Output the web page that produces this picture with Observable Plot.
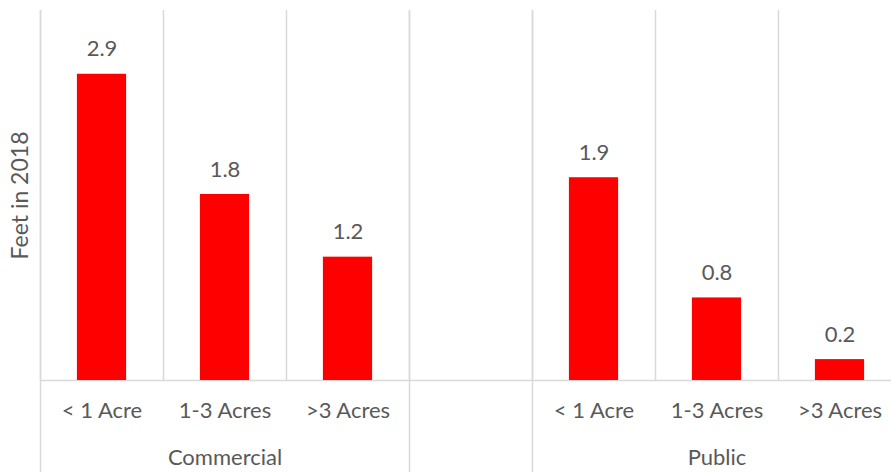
<!DOCTYPE html>
<html><head><meta charset="utf-8">
<script src="https://cdn.jsdelivr.net/npm/d3@7"></script>
<script src="https://cdn.jsdelivr.net/npm/@observablehq/plot@0.6"></script>
<style>body{margin:0;background:#fff} svg{display:block}</style>
</head><body><div id="chart"></div>
<script>
// Category slots (with an empty spacer slot between groups)
const categories = ["< 1 Acre", "1-3 Acres", ">3 Acres", "", "< 1 Acre", "1-3 Acres", ">3 Acres"];
const values = [2.93, 1.78, 1.18, null, 1.94, 0.79, 0.2];
const valueLabels = ["2.9", "1.8", "1.2", "", "1.9", "0.8", "0.2"];
// Group labels and the slot spans they cover [start, end)
const groupNames = ["Commercial", "", "Public"];
const groupStart = [0, 3, 4];
const groupEnd = [3, 4, 7];
const yTitle = "Feet in 2018";

const rows = categories.map((c, i) => ({i, category: c, value: values[i], label: valueLabels[i]}));
const bars = rows.filter(d => d.value != null);
const groups = groupNames.map((g, k) => ({name: g, start: groupStart[k], end: groupEnd[k]}));
const boundaries = [0, ...groupEnd];
const slotEdges = d3.range(categories.length + 1);

const grid = "#d9d9d9";
const ink = "#595959";

const chart = Plot.plot({
  width: 891,
  height: 472,
  marginLeft: 40,
  marginTop: 10,
  marginBottom: 92,
  marginRight: 0,
  style: {fontFamily: "Lato, 'Open Sans', sans-serif", fontSize: "22px", color: ink, background: "#fff"},
  x: {type: "linear", domain: [0, categories.length], range: [40, 901], axis: null},
  y: {domain: [0, 3.54], axis: null},
  marks: [
    Plot.ruleX(slotEdges, {stroke: grid, strokeWidth: 1.5}),
    Plot.ruleX(boundaries, {stroke: grid, strokeWidth: 1.5, insetBottom: -92}),
    Plot.ruleY([0], {stroke: grid, strokeWidth: 1.5}),
    Plot.rectY(bars, {x1: d => d.i + 0.3, x2: d => d.i + 0.7, y: "value", fill: "#ff0000"}),
    Plot.text(bars, {x: d => d.i + 0.5, y: "value", text: "label", dy: -25, fill: ink, fontSize: 22}),
    Plot.text(rows, {x: d => d.i + 0.5, text: "category", frameAnchor: "bottom", dy: 37, fill: ink, fontSize: 22}),
    Plot.text(groups, {x: d => (d.start + d.end) / 2, text: "name", frameAnchor: "bottom", dy: 84, fill: ink, fontSize: 22}),
    Plot.text([yTitle], {text: d => d, frameAnchor: "left", textAnchor: "middle", rotate: -90, dx: -20, fill: ink, fontSize: 23})
  ]
});
document.getElementById("chart").append(chart);
</script>
</body></html>
